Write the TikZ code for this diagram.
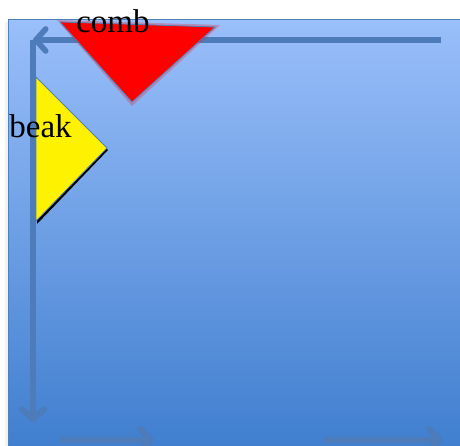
\documentclass[tikz,border=0pt]{standalone}
\usepackage{fontspec}
\setmainfont{Liberation Serif}
\usetikzlibrary{arrows.meta,positioning}
\definecolor{bgtop}{RGB}{154,191,250}
\definecolor{bgbot}{RGB}{62,125,206}
\definecolor{rim}{RGB}{79,129,189}
\definecolor{linkblue}{RGB}{78,124,186}
\begin{document}
\begin{tikzpicture}[
    x=1pt, y=-1pt,
    edge/.style ={
        draw=linkblue, line width=5.5pt,
        -{Straight Barb[round,length=10pt,width=22pt]},
    },
    ghost/.style ={
        edge, draw=black, draw opacity=0.12, shift={(1pt,-2.5pt)},
    },
    word/.style ={
        font=\fontsize{33}{33}\selectfont, inner sep=0pt, anchor=base,
    },
    wedge/.style ={
        draw=rim, line width=0.8pt, line join=round,
    },
    ]
    \useasboundingbox (0,0) rectangle (460,446);
    % page and panel
    \fill[black!5] (5,22) rectangle (8,446);
    \path[top color=bgtop, bottom color=bgbot, draw=rim, line width=1pt]
        (8,20) rectangle (470,456);

    % arrows
    \coordinate (topEnd) at (441,40);
    \coordinate (corner) at (33,40);
    \coordinate (downEnd) at (33,422);
    \coordinate (lowA) at (60,440);
    \coordinate (lowB) at (153,440);
    \coordinate (lowC) at (323,440);
    \coordinate (lowD) at (442,440);
    \foreach \a/\b in {topEnd/corner, corner/downEnd, lowA/lowB, lowC/lowD} {
        \draw[ghost] (\a) -- (\b);
        \draw[edge] (\a) -- (\b);
    }

    % comb
    \fill[red, opacity=0.25] (57,20) -- (220,25) -- (132,106) -- cycle;
    \filldraw[wedge, fill=red] (60,22) -- (215,27) -- (132,102) -- cycle;
    \node[word] (comb) at (113,33) {comb};

    % beak
    \fill[black] (37,80) -- (108,150) -- (37,224) -- cycle;
    \filldraw[wedge, fill=yellow] (36,77) -- (107,148) -- (36,221) -- cycle;
    \node[word] (beak) at (40.5,138) {beak};
\end{tikzpicture}
\end{document}
